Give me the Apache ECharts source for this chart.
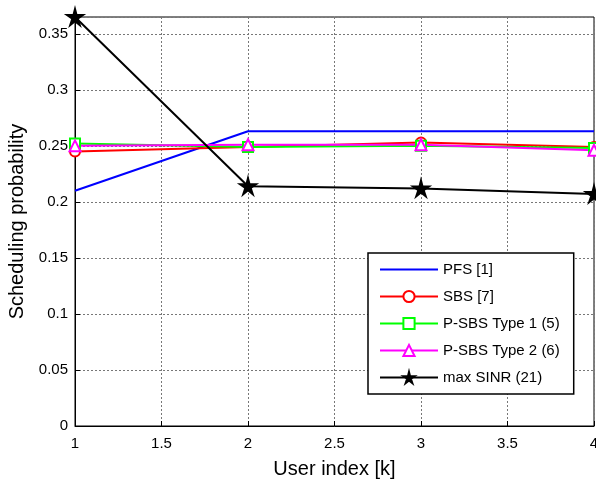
<!DOCTYPE html>
<html>
<head>
<meta charset="utf-8">
<script src="https://cdn.jsdelivr.net/npm/echarts@6/dist/echarts.min.js"></script>
<style>
  html, body { margin: 0; padding: 0; background: #fff; }
  #chart { width: 596px; height: 481px; }
</style>
</head>
<body>
<div id="chart"></div>
<script>
// 数据
var users = [1, 2, 3, 4];
var pfs = [0.210, 0.263, 0.263, 0.263];
var sbs = [0.245, 0.249, 0.253, 0.249];
var psbs1 = [0.252, 0.249, 0.250, 0.248];
var psbs2 = [0.250, 0.251, 0.251, 0.246];
var maxSinr = [0.365, 0.214, 0.212, 0.207];

var seriesNames = ['PFS [1]', 'SBS [7]', 'P-SBS Type 1 (5)', 'P-SBS Type 2 (6)', 'max SINR (21)'];

var starPath = 'path://M50,0 L59,36 L97,36 L66,58 L78,95 L50,72 L22,95 L34,58 L3,36 L41,36 Z';

function pairs(ys) {
  return users.map(function (x, i) { return [x, ys[i]]; });
}

var font = 'Liberation Sans, Arial, Helvetica, sans-serif';
var myChart = echarts.init(document.getElementById('chart'));

function mkSeries(name, data, color, symbol, size) {
  return {
    name: name,
    type: 'line',
    data: pairs(data),
    symbol: symbol,
    symbolSize: size,
    showAllSymbol: true,
    lineStyle: { color: color, width: 2 },
    itemStyle: {
      color: symbol === starPath ? color : '#fff',
      borderColor: color,
      borderWidth: 2
    },
    emphasis: { disabled: true },
    animation: false
  };
}

var option = {
  animation: false,
  grid: {
    left: 75, right: 2, top: 17, bottom: 55,
    outerBoundsMode: 'none',
    show: true, borderColor: '#000', borderWidth: 1
  },
  legend: {
    orient: 'vertical',
    left: 368,
    top: 253,
    padding: [9, 14, 9, 11],
    itemWidth: 58,
    itemHeight: 14,
    itemGap: 12,
    backgroundColor: '#fff',
    borderColor: '#000',
    borderWidth: 1.5,
    textStyle: { fontFamily: font, fontSize: 15, color: '#000' },
    data: [
      { name: seriesNames[0], itemStyle: { opacity: 0 } },
      seriesNames[1], seriesNames[2], seriesNames[3], seriesNames[4]
    ]
  },
  xAxis: {
    type: 'value',
    min: 1,
    max: 4,
    interval: 0.5,
    name: 'User index [k]',
    nameLocation: 'middle',
    nameGap: 33,
    nameTextStyle: { fontFamily: font, fontSize: 20, color: '#000' },
    axisLine: { lineStyle: { color: '#000', width: 1 } },
    axisTick: { inside: true, length: 5, lineStyle: { color: '#000' } },
    axisLabel: { fontFamily: font, fontSize: 15, color: '#000', margin: 10 },
    splitLine: { show: true, lineStyle: { color: '#777', type: [2, 2], width: 1 } }
  },
  yAxis: {
    type: 'value',
    min: 0,
    max: 0.365,
    interval: 0.05,
    name: 'Scheduling probability',
    nameLocation: 'middle',
    nameGap: 48,
    nameTextStyle: { fontFamily: font, fontSize: 20, color: '#000' },
    axisLine: { show: true, lineStyle: { color: '#000', width: 1 } },
    axisTick: { show: true, inside: true, length: 5, lineStyle: { color: '#000' } },
    axisLabel: {
      fontFamily: font, fontSize: 15, color: '#000', margin: 7,
      showMaxLabel: false,
      formatter: function (v) { return String(+v.toFixed(2)); }
    },
    splitLine: { show: true, lineStyle: { color: '#777', type: [2, 2], width: 1 } }
  },
  series: [
    mkSeries(seriesNames[0], pfs, '#0000ff', 'none', 0),
    mkSeries(seriesNames[1], sbs, '#ff0000', 'circle', 10),
    mkSeries(seriesNames[2], psbs1, '#00ff00', 'rect', 10),
    mkSeries(seriesNames[3], psbs2, '#ff00ff', 'triangle', 11),
    mkSeries(seriesNames[4], maxSinr, '#000000', starPath, 16)
  ]
};

myChart.setOption(option);
</script>
</body>
</html>
